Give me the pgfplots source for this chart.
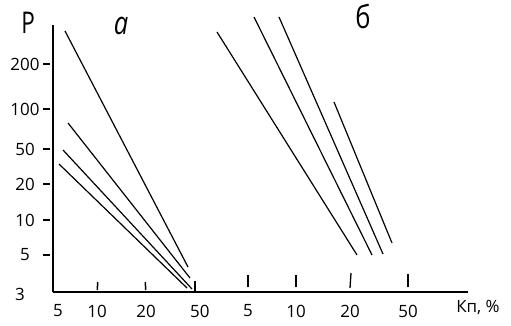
\documentclass[border=0pt]{standalone}
\usepackage{fontspec}
\setmainfont{Open Sans}
\usepackage{pgfplots}
\pgfplotsset{compat=1.18}
\begin{document}
\begin{tikzpicture}
\begin{axis}[
  x=1bp, y=1bp,
  xmin=53, xmax=468, ymin=33, ymax=300,
  axis x line=bottom, axis y line=left,
  axis line style={-, line width=1.6bp, black},
  clip=false,
  tick align=inside,
  major tick length=7bp,
  xtick style={draw=none},
  ytick style={draw=black, line width=1.3bp, xshift=-10bp},
  ytick={70,105,141,176,216,261},
  yticklabels={5,10,20,50,100,200},
  yticklabel style={anchor=center, xshift=-28bp},
  xtick={53,97,146,195},
  xticklabels={\hphantom{0}5,10,20,\hphantom{0}50},
  extra x ticks={248,296,350,408},
  extra x tick labels={5,10,20,50},
  extra x tick style={xtick style={draw=none}},
  xticklabel style={anchor=center, yshift=-19bp},
  tick label style={font=\fontsize{17}{17}\selectfont},
  /pgf/number format/assume math mode=true,
]
% tick marks on the x axis
\draw[line width=1.5bp] (axis cs:97.4,35) -- (axis cs:97.6,43);
\draw[line width=1.5bp] (axis cs:145.6,35) -- (axis cs:145.4,43);
\draw[line width=1.5bp] (axis cs:195,34) -- (axis cs:195,44);
\draw[line width=1.3bp] (axis cs:248,38) -- (axis cs:248,50);
\draw[line width=1.3bp] (axis cs:296,38) -- (axis cs:296,50);
\draw[line width=1.3bp] (axis cs:350,37) -- (axis cs:351,52);
\draw[line width=1.3bp] (axis cs:408,38) -- (axis cs:408,51);
% panel a
\addplot[black, line width=1.2bp] coordinates {(65,294) (188,58)};
\addplot[black, line width=1.2bp] coordinates {(68,202) (190,47)};
\addplot[black, line width=1.2bp] coordinates {(63,175) (192,36)};
\addplot[black, line width=1.2bp] coordinates {(59,161) (187,37)};
% panel b
\addplot[black, line width=1.2bp] coordinates {(217,293) (357,70)};
\addplot[black, line width=1.2bp] coordinates {(254,308) (372,70)};
\addplot[black, line width=1.2bp] coordinates {(279,308) (383,71)};
\addplot[black, line width=1.2bp] coordinates {(334,223) (392,82)};
\node[font=\fontsize{30}{30}\selectfont, xscale=0.75] at (axis cs:28,302) {Р};
\node[font=\fontsize{32}{32}\selectfont\itshape, xscale=0.8] at (axis cs:121,299) {а};
\node[font=\fontsize{32}{32}\selectfont, xscale=0.8] at (axis cs:363,309) {б};
\node[font=\fontsize{17}{17}\selectfont] at (axis cs:478,18) {Кп, \%};
\node[font=\fontsize{17}{17}\selectfont] at (axis cs:20,31) {3};
\coordinate (bl) at (axis cs:0,0);
\coordinate (tr) at (axis cs:511,325);
\end{axis}
\pgfresetboundingbox
\path[use as bounding box] (bl) rectangle (tr);
\end{tikzpicture}
\end{document}
